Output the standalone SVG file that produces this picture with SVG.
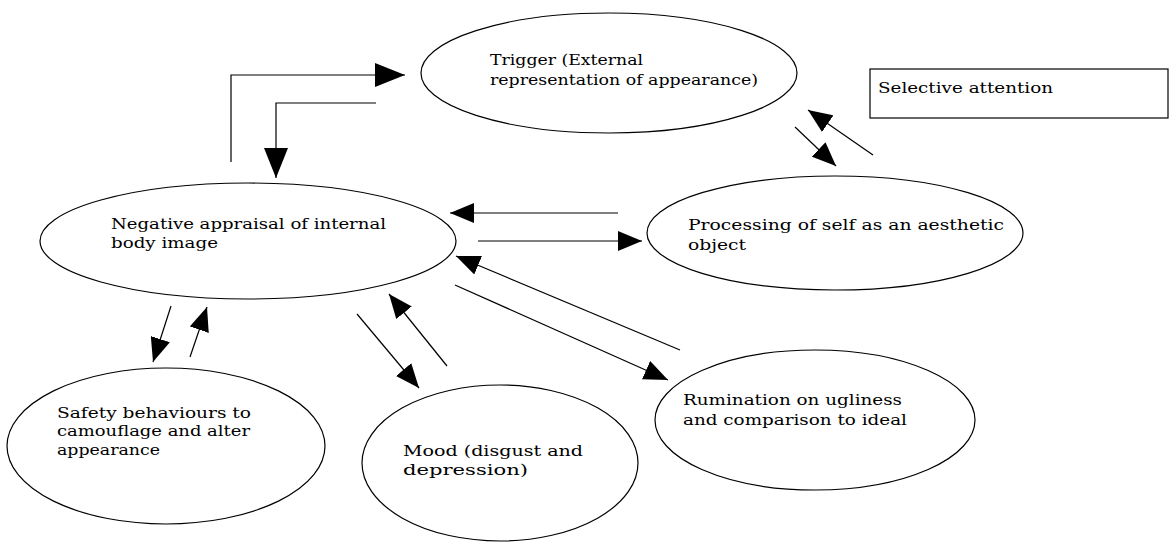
<svg xmlns="http://www.w3.org/2000/svg" width="1170" height="542" viewBox="0 0 1170 542">
<style>
.n{fill:none;stroke:#000;stroke-width:1.2}
.t{font-family:"DejaVu Serif","Liberation Serif",serif;font-size:14.5px;fill:#000}
.c{fill:none;stroke:#000;stroke-width:1.2}
</style>
<defs>
<marker id="big" markerUnits="userSpaceOnUse" markerWidth="32" markerHeight="24" refX="30" refY="12" orient="auto"><path d="M0,0 L30,12 L0,24 Z" fill="#000"/></marker>
<marker id="ah" markerUnits="userSpaceOnUse" markerWidth="26" markerHeight="20" refX="24" refY="10" orient="auto"><path d="M0,0 L24,10 L0,20 Z" fill="#000"/></marker>
</defs>
<rect width="1170" height="542" fill="#fff"/>
<g id="trigger"><ellipse class="n" cx="609" cy="73" rx="188" ry="60"/><text class="t" x="490" y="65" textLength="153" lengthAdjust="spacingAndGlyphs">Trigger (External</text><text class="t" x="490" y="85" textLength="268" lengthAdjust="spacingAndGlyphs">representation of appearance)</text></g>
<g id="selective"><rect class="n" x="870" y="69" width="298" height="49"/><text class="t" x="878" y="93" textLength="175" lengthAdjust="spacingAndGlyphs">Selective attention</text></g>
<g id="processing"><ellipse class="n" cx="835" cy="233" rx="188" ry="57"/><text class="t" x="688" y="230" textLength="316" lengthAdjust="spacingAndGlyphs">Processing of self as an aesthetic</text><text class="t" x="688" y="250" textLength="58" lengthAdjust="spacingAndGlyphs">object</text></g>
<g id="negative"><ellipse class="n" cx="248" cy="241" rx="208" ry="58"/><text class="t" x="111" y="229" textLength="275" lengthAdjust="spacingAndGlyphs">Negative appraisal of internal</text><text class="t" x="111" y="248" textLength="107" lengthAdjust="spacingAndGlyphs">body image</text></g>
<g id="safety"><ellipse class="n" cx="166" cy="446" rx="159" ry="78"/><text class="t" x="57" y="418" textLength="194" lengthAdjust="spacingAndGlyphs">Safety behaviours to</text><text class="t" x="57" y="436" textLength="193" lengthAdjust="spacingAndGlyphs">camouflage and alter</text><text class="t" x="57" y="455" textLength="103" lengthAdjust="spacingAndGlyphs">appearance</text></g>
<g id="mood"><ellipse class="n" cx="500" cy="463" rx="138" ry="78"/><text class="t" x="403" y="456" textLength="180" lengthAdjust="spacingAndGlyphs">Mood (disgust and</text><text class="t" x="403" y="475" textLength="125" lengthAdjust="spacingAndGlyphs">depression)</text></g>
<g id="rumination"><ellipse class="n" cx="815" cy="420" rx="160" ry="70"/><text class="t" x="683" y="405" textLength="219" lengthAdjust="spacingAndGlyphs">Rumination on ugliness</text><text class="t" x="683" y="425" textLength="224" lengthAdjust="spacingAndGlyphs">and comparison to ideal</text></g>
<g id="connectors">
<polyline class="c" points="231,162 231,75 405,75" marker-end="url(#big)"/>
<polyline class="c" points="376,103 276,103 276,178" marker-end="url(#big)"/>
<line class="c" x1="873" y1="155" x2="808" y2="110" marker-end="url(#ah)"/>
<line class="c" x1="795" y1="127" x2="836" y2="166" marker-end="url(#ah)"/>
<line class="c" x1="618" y1="213" x2="450" y2="213" marker-end="url(#ah)"/>
<line class="c" x1="478" y1="241" x2="642" y2="241" marker-end="url(#ah)"/>
<line class="c" x1="680" y1="350" x2="456" y2="256" marker-end="url(#ah)"/>
<line class="c" x1="455" y1="285" x2="668" y2="380" marker-end="url(#ah)"/>
<line class="c" x1="357" y1="314" x2="419" y2="388" marker-end="url(#ah)"/>
<line class="c" x1="447" y1="366" x2="389" y2="294" marker-end="url(#ah)"/>
<line class="c" x1="171" y1="306" x2="153" y2="362" marker-end="url(#ah)"/>
<line class="c" x1="190" y1="357" x2="207" y2="307" marker-end="url(#ah)"/>
</g>
</svg>
